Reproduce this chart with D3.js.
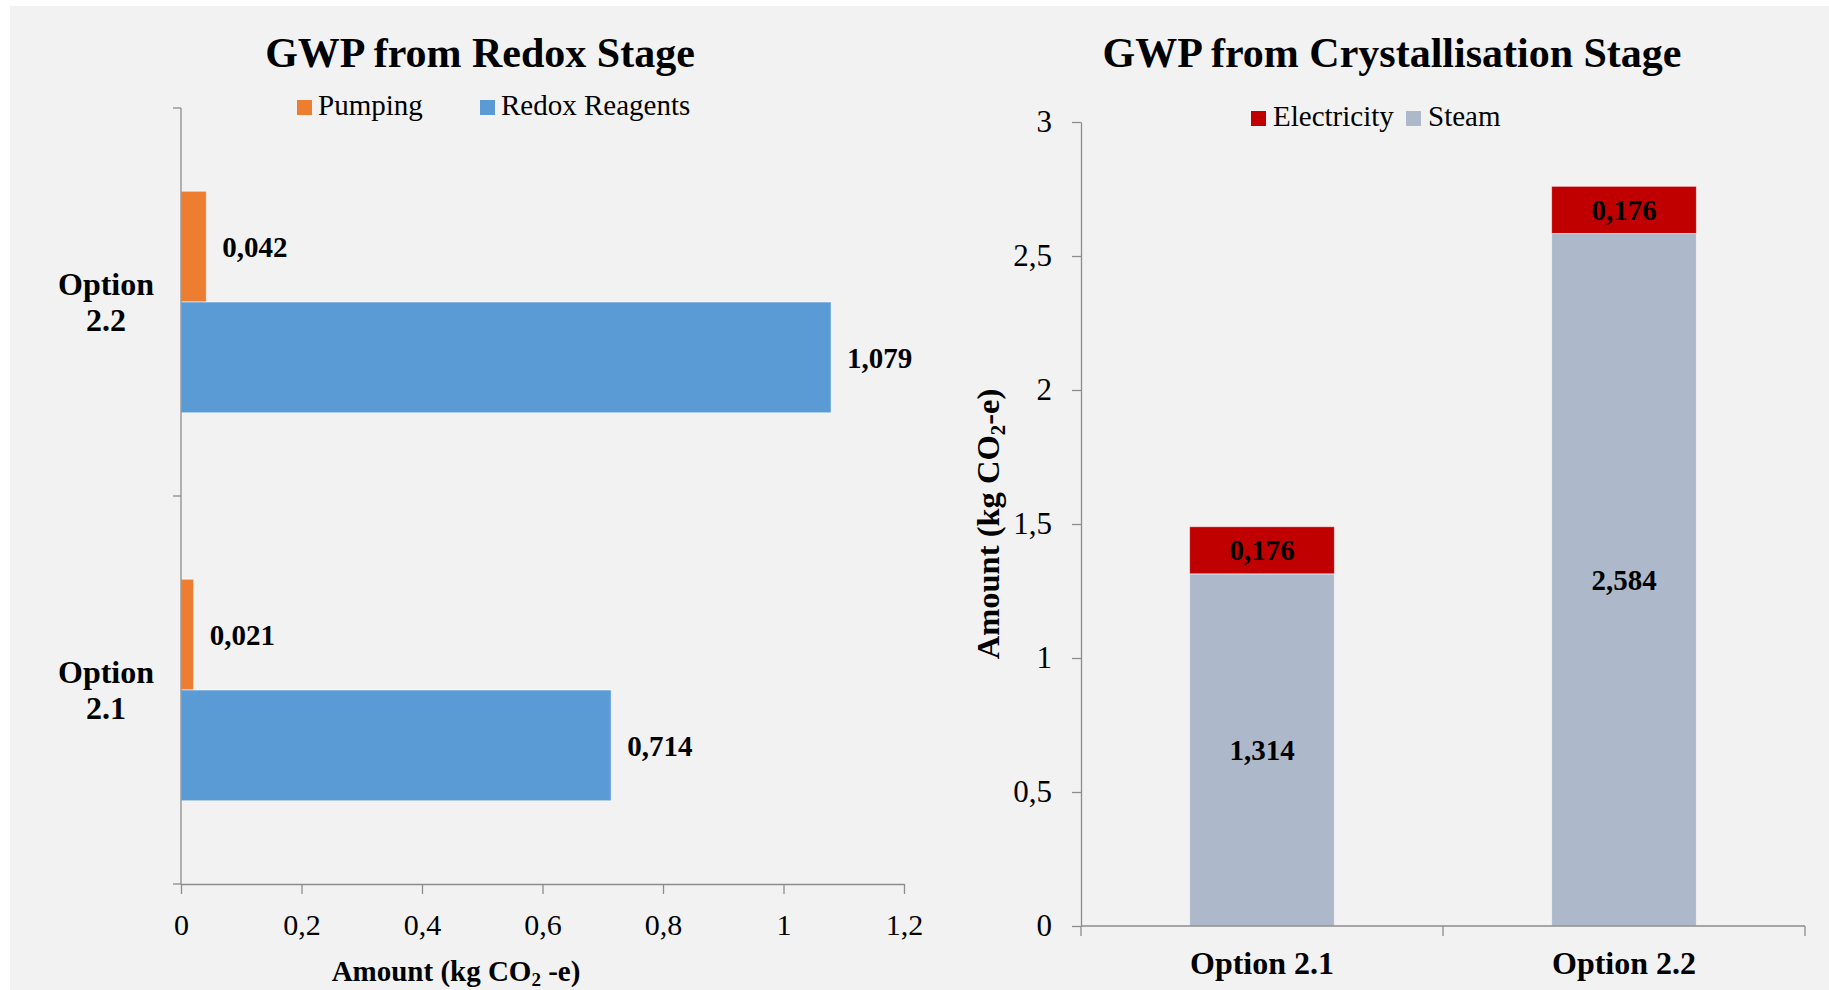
<!DOCTYPE html>
<html>
<head>
<meta charset="utf-8">
<script src="https://cdn.jsdelivr.net/npm/d3@7/dist/d3.min.js"></script>
<style>
  html, body { margin: 0; padding: 0; background: #ffffff; }
  svg { display: block; }
  text { font-family: "Liberation Serif", "Times New Roman", serif; fill: #000; }
</style>
</head>
<body>
<svg id="chart" width="1829" height="990"></svg>
<script>
// ---- Redox stage (horizontal clustered bars), categories listed top to bottom
const redoxCategories = ["Option 2.2", "Option 2.1"];
const redoxSeries = ["Pumping", "Redox Reagents"];
const pumpingValues = [0.042, 0.021];
const redoxReagentValues = [1.079, 0.714];
const redoxTicks = [0, 0.2, 0.4, 0.6, 0.8, 1, 1.2];

// ---- Crystallisation stage (vertical stacked bars)
const crystCategories = ["Option 2.1", "Option 2.2"];
const crystSeries = ["Steam", "Electricity"];
const steamValues = [1.314, 2.584];
const electricityValues = [0.176, 0.176];
const crystTicks = [0, 0.5, 1, 1.5, 2, 2.5, 3];

const colors = {
  "Pumping": "#ED7D31",
  "Redox Reagents": "#5B9BD5",
  "Electricity": "#C00000",
  "Steam": "#ADB9CA"
};

// decimal comma, as in the labels
const locale = d3.formatLocale({ decimal: ",", thousands: ".", grouping: [3], currency: ["", ""] });
const fmtTick = locale.format("");
const fmtValue = locale.format(".3f");

const AXIS = "#8c8c8c";
const svg = d3.select("#chart");

// panel background
svg.append("rect").attr("x", 10).attr("y", 6).attr("width", 1819).attr("height", 984).attr("fill", "#f2f2f2");

/* ============ Left chart: GWP from Redox Stage ============ */
{
  const x0 = 181, x1 = 904, yTop = 108, yBot = 884;
  const x = d3.scaleLinear().domain([0, 1.2]).range([x0, x1]);
  const y = d3.scaleBand().domain(redoxCategories).range([yTop, yBot])
    .paddingInner(0.429).paddingOuter(0.2145);
  const ySub = d3.scaleBand().domain(redoxSeries).range([0, y.bandwidth()]);

  const rows = redoxCategories.map((c, i) => ({
    category: c,
    values: [
      { key: "Pumping", value: pumpingValues[i] },
      { key: "Redox Reagents", value: redoxReagentValues[i] }
    ]
  }));

  svg.append("text").attr("x", 480).attr("y", 67).attr("text-anchor", "middle")
    .style("font-size", "42px").style("font-weight", "bold").text("GWP from Redox Stage");

  // legend
  const legendItems = [{ key: "Pumping", x: 297 }, { key: "Redox Reagents", x: 480 }];
  const lg = svg.append("g");
  legendItems.forEach(d => {
    lg.append("rect").attr("x", d.x).attr("y", 100).attr("width", 15).attr("height", 15).attr("fill", colors[d.key]);
    lg.append("text").attr("x", d.x + 21).attr("y", 115).style("font-size", "29px").text(d.key);
  });

  // bars
  const groups = svg.append("g").selectAll("g").data(rows).join("g")
    .attr("transform", d => `translate(0,${y(d.category)})`);
  groups.selectAll("rect").data(d => d.values).join("rect")
    .attr("x", x(0))
    .attr("y", d => ySub(d.key))
    .attr("width", d => x(d.value) - x(0))
    .attr("height", ySub.bandwidth())
    .attr("fill", d => colors[d.key])
    .attr("stroke", "rgba(255,255,255,0.55)").attr("stroke-width", 1);
  groups.selectAll("text.val").data(d => d.values).join("text").attr("class", "val")
    .attr("x", d => x(d.value) + 16)
    .attr("y", d => ySub(d.key) + ySub.bandwidth() / 2)
    .attr("dy", "0.35em")
    .style("font-size", "29px").style("font-weight", "bold")
    .text(d => fmtValue(d.value));

  // category axis (left)
  svg.append("line").attr("x1", x0).attr("x2", x0).attr("y1", yTop).attr("y2", yBot)
    .attr("stroke", AXIS).attr("stroke-width", 1.3);
  const step = y.step();
  const bounds = [yTop, yTop + step, yBot];
  svg.append("g").selectAll("line").data(bounds).join("line")
    .attr("x1", x0 - 8).attr("x2", x0).attr("y1", d => d).attr("y2", d => d)
    .attr("stroke", AXIS).attr("stroke-width", 1.3);
  const cat = svg.append("g").selectAll("text").data(redoxCategories).join("text")
    .attr("text-anchor", "middle")
    .style("font-size", "32px").style("font-weight", "bold");
  cat.each(function (d) {
    const c = y(d) + y.bandwidth() / 2;
    const parts = d.split(" ");
    d3.select(this).append("tspan").attr("x", 106).attr("y", c - 7.5).text(parts[0]);
    d3.select(this).append("tspan").attr("x", 106).attr("y", c + 29).text(parts[1]);
  });

  // value axis (bottom)
  const ax = svg.append("g").attr("transform", `translate(0,${yBot})`)
    .call(d3.axisBottom(x).tickValues(redoxTicks).tickFormat(fmtTick).tickSize(10).tickSizeOuter(0));
  ax.select(".domain").attr("stroke", AXIS).attr("stroke-width", 1.3);
  ax.selectAll(".tick line").attr("stroke", AXIS).attr("stroke-width", 1.3);
  ax.selectAll(".tick text").attr("y", 40).attr("dy", "0.35em")
    .style("font-size", "30px").style("font-family", "'Liberation Serif', 'Times New Roman', serif").attr("fill", "#000");

  const t = svg.append("text").attr("x", 456).attr("y", 981).attr("text-anchor", "middle")
    .style("font-size", "29px").style("font-weight", "bold");
  t.append("tspan").text("Amount (kg CO");
  t.append("tspan").attr("dy", 5).style("font-size", "19px").text("2");
  t.append("tspan").attr("dy", -5).text(" -e)");
}

/* ============ Right chart: GWP from Crystallisation Stage ============ */
{
  const x0 = 1081, x1 = 1805, yTop = 122, yBot = 926;
  const x = d3.scaleBand().domain(crystCategories).range([x0, x1]).paddingInner(0.6).paddingOuter(0.3);
  const y = d3.scaleLinear().domain([0, 3]).range([yBot, yTop]);

  const table = crystCategories.map((c, i) => ({ category: c, Steam: steamValues[i], Electricity: electricityValues[i] }));
  const stacked = d3.stack().keys(crystSeries)(table);

  svg.append("text").attr("x", 1392).attr("y", 67).attr("text-anchor", "middle")
    .style("font-size", "42px").style("font-weight", "bold").text("GWP from Crystallisation Stage");

  const legendItems = [{ key: "Electricity", x: 1251 }, { key: "Steam", x: 1406 }];
  const lg = svg.append("g");
  legendItems.forEach(d => {
    lg.append("rect").attr("x", d.x).attr("y", 111).attr("width", 15).attr("height", 15).attr("fill", colors[d.key]);
    lg.append("text").attr("x", d.x + 22).attr("y", 126).style("font-size", "29px").text(d.key);
  });

  // stacked bars
  const layers = svg.append("g").selectAll("g").data(stacked).join("g")
    .attr("fill", d => colors[d.key]);
  layers.selectAll("rect").data(d => d.map(p => ({ key: d.key, p }))).join("rect")
    .attr("x", d => x(d.p.data.category))
    .attr("y", d => y(d.p[1]))
    .attr("width", x.bandwidth())
    .attr("height", d => y(d.p[0]) - y(d.p[1]))
    .attr("stroke", "rgba(255,255,255,0.55)").attr("stroke-width", 1);
  layers.selectAll("text").data(d => d.map(p => ({ key: d.key, p }))).join("text")
    .attr("x", d => x(d.p.data.category) + x.bandwidth() / 2)
    .attr("y", d => (y(d.p[0]) + y(d.p[1])) / 2)
    .attr("dy", "0.35em").attr("text-anchor", "middle")
    .style("font-size", "29px").style("font-weight", "bold").attr("fill", "#000")
    .text(d => fmtValue(d.p.data[d.key]));

  // value axis (left)
  const ay = svg.append("g").attr("transform", `translate(${x0},0)`)
    .call(d3.axisLeft(y).tickValues(crystTicks).tickFormat(fmtTick).tickSize(9).tickPadding(20).tickSizeOuter(0));
  ay.select(".domain").attr("stroke", AXIS).attr("stroke-width", 1.3);
  ay.selectAll(".tick line").attr("stroke", AXIS).attr("stroke-width", 1.3);
  ay.selectAll(".tick text").style("font-size", "31px")
    .style("font-family", "'Liberation Serif', 'Times New Roman', serif").attr("fill", "#000");

  // category axis (bottom)
  svg.append("line").attr("x1", x0).attr("x2", x1).attr("y1", yBot).attr("y2", yBot)
    .attr("stroke", AXIS).attr("stroke-width", 1.3);
  const bounds = [x0, (x0 + x1) / 2, x1];
  svg.append("g").selectAll("line").data(bounds).join("line")
    .attr("x1", d => d).attr("x2", d => d).attr("y1", yBot).attr("y2", yBot + 10)
    .attr("stroke", AXIS).attr("stroke-width", 1.3);
  svg.append("g").selectAll("text").data(crystCategories).join("text")
    .attr("x", d => x(d) + x.bandwidth() / 2).attr("y", 974).attr("text-anchor", "middle")
    .style("font-size", "32px").style("font-weight", "bold").text(d => d);

  const t = svg.append("text").attr("transform", "translate(999,524) rotate(-90)").attr("text-anchor", "middle")
    .style("font-size", "32.5px").style("font-weight", "bold");
  t.append("tspan").text("Amount (kg CO");
  t.append("tspan").attr("dy", 6).style("font-size", "21px").text("2");
  t.append("tspan").attr("dy", -6).text("-e)");
}
</script>
</body>
</html>
